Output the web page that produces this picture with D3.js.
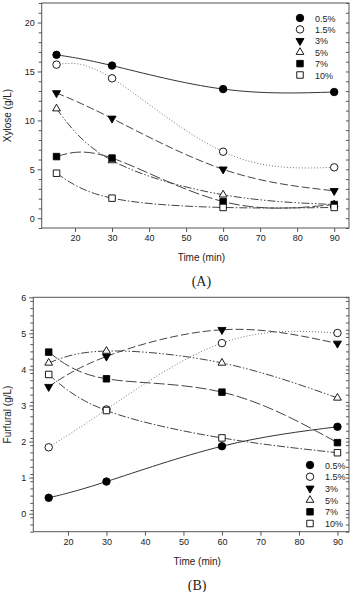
<!DOCTYPE html>
<html>
<head>
<meta charset="utf-8">
<script src="https://cdn.jsdelivr.net/npm/d3@7"></script>
<style>
  body { margin: 0; background: #fff; }
  svg text { font-family: "Liberation Sans", Arial, sans-serif; fill: #222; }
  .cap { font-family: "Liberation Serif", "Times New Roman", serif; }
</style>
</head>
<body>
<div id="chart"></div>
<script>
const times = [15, 30, 60, 90];
const seriesNames = ['0.5%', '1.5%', '3%', '5%', '7%', '10%'];

// xylose (g/L), panel A
const xyl05 = [16.7, 15.6, 13.2, 12.9];
const xyl15 = [15.7, 14.3, 6.8, 5.2];
const xyl3 = [12.8, 10.2, 5.0, 2.8];
const xyl5 = [11.2, 5.9, 2.4, 1.4];
const xyl7 = [6.3, 6.15, 1.7, 1.4];
const xyl10 = [4.6, 2.05, 1.1, 1.1];

// furfural (g/L), panel B
const fur05 = [0.44, 0.89, 1.87, 2.41];
const fur15 = [1.84, 2.89, 4.73, 5.01];
const fur3 = [3.52, 4.36, 5.1, 4.72];
const fur5 = [4.18, 4.51, 4.18, 3.21];
const fur7 = [4.48, 3.74, 3.37, 1.97];
const fur10 = [3.86, 2.86, 2.1, 1.69];

const xTicks = [20, 30, 40, 50, 60, 70, 80, 90];
const xylTicks = [0, 5, 10, 15, 20];
const furTicks = [0, 1, 2, 3, 4, 5, 6];

const symbols = [
  { type: d3.symbolCircle, fill: '#000' },
  { type: d3.symbolCircle, fill: '#fff' },
  { type: 'down', fill: '#000' },
  { type: d3.symbolTriangle, fill: '#fff' },
  { type: d3.symbolSquare, fill: '#000' },
  { type: d3.symbolSquare, fill: '#fff' }
];
const dashes = [null, '1,2', '8,3', '8,2,1.5,2,1.5,2', '11,3', '8,2,1.5,2'];
const lineColors = ['#333', '#777', '#444', '#444', '#444', '#444'];

const W = 354, H = 592;
const svg = d3.select('#chart').append('svg').attr('width', W).attr('height', H);
svg.append('rect').attr('width', W).attr('height', H).attr('fill', '#fff');

function markerPath(s) {
  if (s.type === 'down') return d3.symbol(d3.symbolTriangle, 28)();
  if (s.type === d3.symbolTriangle) return d3.symbol(s.type, 26)();
  if (s.type === d3.symbolSquare) return d3.symbol(s.type, 42)();
  return d3.symbol(s.type, 44)();
}

function drawMarker(g, s, x, y) {
  g.append('path')
    .attr('d', markerPath(s))
    .attr('transform', `translate(${x},${y})` + (s.type === 'down' ? ' rotate(180)' : ''))
    .attr('fill', s.fill)
    .attr('stroke', '#000')
    .attr('stroke-width', 0.9);
}

function panel(opt) {
  const x = d3.scaleLinear().domain(opt.xDomain).range([opt.left, opt.right]);
  const y = d3.scaleLinear().domain(opt.yDomain).range([opt.bottom, opt.top]);
  const g = svg.append('g');

  // frame
  g.append('rect')
    .attr('x', opt.left).attr('y', opt.top)
    .attr('width', opt.right - opt.left).attr('height', opt.bottom - opt.top)
    .attr('fill', 'none').attr('stroke', '#555').attr('stroke-width', 1);

  // left axis
  const minorY = d3.range(opt.yDomain[0], opt.yDomain[1] + 1e-9, opt.minorStep)
    .map(v => Math.round(v * 100) / 100)
    .filter(v => !opt.yTicks.includes(v));
  const left = g.append('g').attr('transform', `translate(${opt.left},0)`);
  left.call(d3.axisLeft(y).tickValues(opt.yTicks).tickFormat(d3.format('d')).tickSize(4).tickPadding(3));
  left.append('g').call(d3.axisLeft(y).tickValues(minorY).tickSize(3).tickFormat(''));
  const right = g.append('g').attr('transform', `translate(${opt.right},0)`);
  right.call(d3.axisRight(y).tickValues(opt.yTicks.concat(minorY)).tickSize(-3).tickFormat(''));

  const bottom = g.append('g').attr('transform', `translate(0,${opt.bottom})`);
  bottom.call(d3.axisBottom(x).tickValues(xTicks).tickFormat(d3.format('d')).tickSize(4).tickPadding(3));

  g.selectAll('.domain').remove();
  g.selectAll('.tick line').attr('stroke', '#555');
  g.selectAll('.tick text').attr('font-size', 9).attr('fill', '#222')
    .style('font-family', '"Liberation Sans", Arial, sans-serif');

  // curves
  const line = d3.line().x((d, i) => x(times[i])).y(d => y(d)).curve(d3.curveNatural);
  opt.series.forEach((vals, k) => {
    g.append('path').datum(vals)
      .attr('d', line)
      .attr('fill', 'none')
      .attr('stroke', lineColors[k])
      .attr('stroke-width', 1)
      .attr('stroke-dasharray', dashes[k]);
  });
  opt.series.forEach((vals, k) => {
    vals.forEach((v, i) => drawMarker(g, symbols[k], x(times[i]), y(v)));
  });

  // legend
  seriesNames.forEach((name, k) => {
    const ly = opt.legY + k * opt.legStep;
    drawMarker(g, symbols[k], opt.legX, ly);
    g.append('text').attr('x', opt.legX + 15).attr('y', ly + 3.5)
      .attr('font-size', 9).text(name);
  });

  // titles
  g.append('text')
    .attr('x', (opt.left + opt.right) / 2 + 6).attr('y', opt.bottom + 33)
    .attr('text-anchor', 'middle').attr('font-size', 10).text('Time (min)');
  g.append('text')
    .attr('transform', `translate(11,${(opt.top + opt.bottom) / 2}) rotate(-90)`)
    .attr('text-anchor', 'middle').attr('font-size', 10).text(opt.yTitle);
  g.append('text').attr('class', 'cap')
    .attr('x', (opt.left + opt.right) / 2 + 6).attr('y', opt.bottom + 58)
    .attr('text-anchor', 'middle').attr('font-size', 14).text(opt.caption);
}

panel({
  left: 41.7, right: 349, top: 3, bottom: 228,
  xDomain: [11, 94], yDomain: [-1, 22],
  yTicks: xylTicks, minorStep: 1,
  series: [xyl05, xyl15, xyl3, xyl5, xyl7, xyl10],
  legX: 300, legY: 18, legStep: 11.4,
  yTitle: 'Xylose (g/L)', caption: '(A)'
});

panel({
  left: 33.3, right: 349, top: 297.3, bottom: 531.7,
  xDomain: [11, 93], yDomain: [-0.5, 6],
  yTicks: furTicks, minorStep: 0.2,
  series: [fur05, fur15, fur3, fur5, fur7, fur10],
  legX: 310, legY: 465, legStep: 11.7,
  yTitle: 'Furfural (g/L)', caption: '(B)'
});
</script>
</body>
</html>
